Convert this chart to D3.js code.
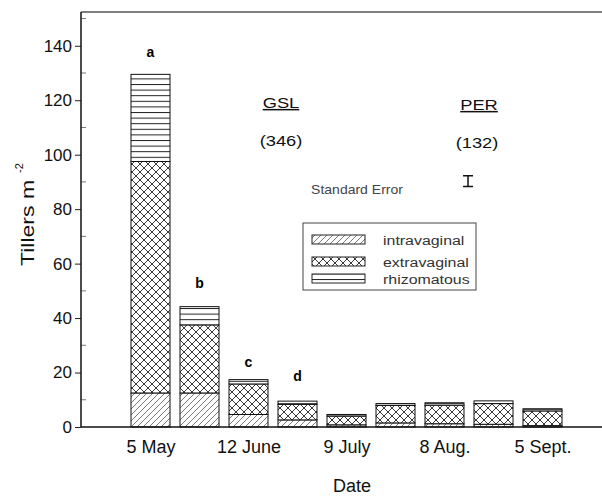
<!DOCTYPE html>
<html>
<head>
<meta charset="utf-8">
<script src="https://cdn.jsdelivr.net/npm/d3@7"></script>
<style>
  body { margin: 0; background: #fff; }
  svg { display: block; font-family: "Liberation Sans", Arial, sans-serif; }
</style>
</head>
<body>
<svg width="602" height="498"></svg>
<script>
// tiller counts per sampling date (bars 1..9)
const barIndex = [1, 2, 3, 4, 5, 6, 7, 8, 9];
const intravaginal = [12.5, 12.5, 4.6, 2.6, 0.8, 1.5, 1.2, 1.0, 0.5];
const extravaginal = [85.0, 25.0, 11.2, 5.7, 3.2, 6.4, 6.8, 7.6, 5.4];
const rhizomatous = [32.0, 6.7, 1.6, 1.2, 0.6, 0.7, 0.9, 1.0, 0.8];

const tickIndex = [1, 3, 5, 7, 9];
const tickLabels = ["5 May", "12 June", "9 July", "8 Aug.", "5 Sept."];

const letters = ["a", "b", "c", "d"];
const letterValues = [137.8, 53, 23.7, 18.9];

const yTicks = [0, 20, 40, 60, 80, 100, 120, 140];
const yMinor = [10, 30, 50, 70, 90, 110, 130, 150];

const seCenter = 90.3, seHalf = 2.0;

const svg = d3.select("svg");
const plotL = 81, plotR = 602, plotT = 12, plotB = 427;

const y = d3.scaleLinear().domain([0, 152.4]).range([plotB, plotT]);
const x = d3.scaleLinear().domain([0, 10]).range([101.5, 591.5]);
const barW = 39;

// patterns
const defs = svg.append("defs");
const hatch = defs.append("pattern").attr("id", "p-intra")
  .attr("patternUnits", "userSpaceOnUse").attr("width", 6).attr("height", 6);
hatch.append("path").attr("d", "M0,6 L6,0 M-1,1 L1,-1 M5,7 L7,5")
  .attr("stroke", "#555").attr("stroke-width", 0.8);

const cross = defs.append("pattern").attr("id", "p-extra")
  .attr("patternUnits", "userSpaceOnUse").attr("width", 8).attr("height", 8);
cross.append("path").attr("d", "M0,0 L8,8 M8,0 L0,8")
  .attr("stroke", "#222").attr("stroke-width", 0.9);

const horiz = defs.append("pattern").attr("id", "p-rhizo")
  .attr("patternUnits", "userSpaceOnUse").attr("width", 8).attr("height", 5.6);
horiz.append("path").attr("d", "M0,0.5 L8,0.5")
  .attr("stroke", "#222").attr("stroke-width", 1);

const series = [
  { key: "intravaginal", values: intravaginal, fill: "url(#p-intra)" },
  { key: "extravaginal", values: extravaginal, fill: "url(#p-extra)" },
  { key: "rhizomatous", values: rhizomatous, fill: "url(#p-rhizo)" }
];

// top frame line
svg.append("line").attr("x1", plotL).attr("x2", plotR).attr("y1", plotT).attr("y2", plotT)
  .attr("stroke", "#555").attr("stroke-width", 1.5);

// stacked bars
barIndex.forEach((b, i) => {
  let base = 0;
  series.forEach(s => {
    const v = s.values[i];
    svg.append("rect")
      .attr("x", x(b) - barW / 2)
      .attr("y", y(base + v))
      .attr("width", barW)
      .attr("height", y(base) - y(base + v))
      .attr("fill", "#fff");
    svg.append("rect")
      .attr("x", x(b) - barW / 2)
      .attr("y", y(base + v))
      .attr("width", barW)
      .attr("height", y(base) - y(base + v))
      .attr("fill", s.fill)
      .attr("stroke", "#111")
      .attr("stroke-width", 1);
    base += v;
  });
});

// letters above first bars
svg.selectAll(".letter").data(letters).enter().append("text")
  .attr("x", (d, i) => x(barIndex[i]))
  .attr("y", (d, i) => y(letterValues[i]) + 5)
  .attr("text-anchor", "middle")
  .style("font-size", "14px")
  .style("font-weight", "bold")
  .text(d => d);

// Y axis
const yAxis = svg.append("g").attr("transform", `translate(${plotL},0)`)
  .call(d3.axisLeft(y).tickValues(yTicks).tickSize(6).tickPadding(3));
yAxis.select(".domain").remove();
yAxis.selectAll("text").style("font-size", "17px").attr("fill", "#111");
yAxis.selectAll("line").attr("stroke", "#222");
svg.append("g").selectAll("line").data(yMinor).enter().append("line")
  .attr("x1", plotL).attr("x2", plotL + 5)
  .attr("y1", d => y(d)).attr("y2", d => y(d))
  .attr("stroke", "#777");
svg.append("line").attr("x1", plotL).attr("x2", plotL).attr("y1", plotT).attr("y2", plotB)
  .attr("stroke", "#111").attr("stroke-width", 1.5);

// X axis
const xAxis = svg.append("g").attr("transform", `translate(0,${plotB})`)
  .call(d3.axisBottom(x).tickValues(tickIndex).tickFormat((d, i) => tickLabels[i]).tickSize(0).tickPadding(13));
xAxis.select(".domain").remove();
xAxis.selectAll("text").style("font-size", "18px").attr("fill", "#111");
svg.append("line").attr("x1", plotL).attr("x2", plotR).attr("y1", plotB).attr("y2", plotB)
  .attr("stroke", "#111").attr("stroke-width", 1.5);

// axis titles
svg.append("text").attr("x", 352).attr("y", 492).attr("text-anchor", "middle")
  .style("font-size", "18px").attr("fill", "#111").text("Date");

svg.append("text").attr("transform", "translate(34,223) rotate(-90) scale(1.28,1)")
  .attr("text-anchor", "middle").style("font-size", "18px").attr("fill", "#111")
  .text("Tillers m");
svg.append("text").attr("transform", "translate(23,168) rotate(-90)")
  .attr("text-anchor", "middle").style("font-size", "11px").attr("fill", "#111")
  .text("-2");

// annotations (drawn slightly stretched, as in the source figure)
const ann = [
  { t: "GSL", x: 281, y: 108, u: true },
  { t: "(346)", x: 281, y: 146, u: false },
  { t: "PER", x: 479, y: 110, u: true },
  { t: "(132)", x: 477, y: 148, u: false }
];
ann.forEach(a => {
  svg.append("text").attr("transform", `translate(${a.x},${a.y}) scale(1.22,1)`)
    .attr("text-anchor", "middle")
    .style("font-size", "15px").attr("fill", "#111")
    .style("text-decoration", a.u ? "underline" : "none").text(a.t);
});
svg.append("text").attr("transform", "translate(357,194) scale(1.12,1)")
  .attr("text-anchor", "middle")
  .style("font-size", "12.5px").attr("fill", "#444").text("Standard Error");

const seX = x(7.48);
svg.append("path")
  .attr("d", `M${seX - 5},${y(seCenter + seHalf)} H${seX + 5} M${seX},${y(seCenter + seHalf)} V${y(seCenter - seHalf)} M${seX - 5},${y(seCenter - seHalf)} H${seX + 5}`)
  .attr("stroke", "#111").attr("stroke-width", 1.5).attr("fill", "none");

// legend
const lg = svg.append("g").attr("transform", "translate(303,223)");
lg.append("rect").attr("width", 173).attr("height", 67)
  .attr("fill", "#fff").attr("stroke", "#444").attr("stroke-width", 1);
series.forEach((s, i) => {
  const ry = [12, 34, 51][i];
  lg.append("rect").attr("x", 9).attr("y", ry).attr("width", 53).attr("height", 9)
    .attr("fill", s.fill).attr("stroke", "#222").attr("stroke-width", 1);
  lg.append("text").attr("transform", `translate(80,${ry + 10}) scale(1.18,1)`)
    .style("font-size", "13.5px").attr("fill", "#333").text(s.key);
});
</script>
</body>
</html>
